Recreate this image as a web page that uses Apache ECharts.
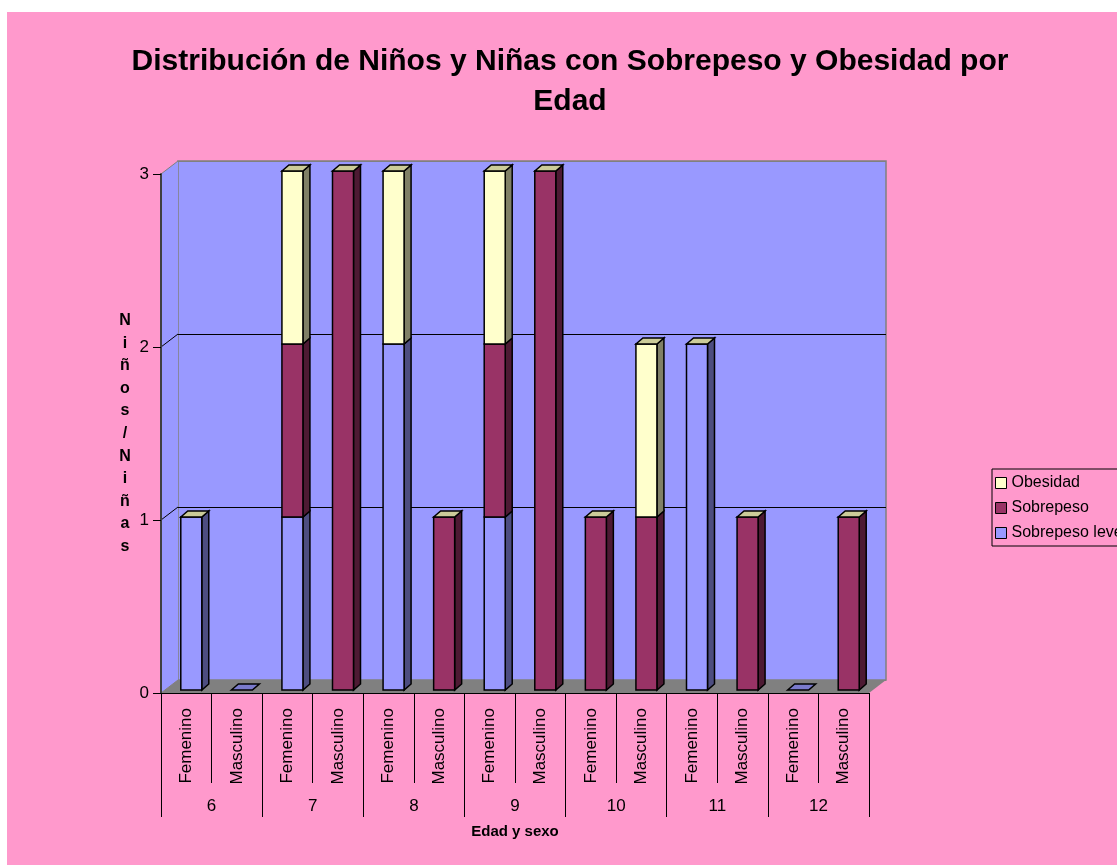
<!DOCTYPE html>
<html>
<head>
  <meta charset="UTF-8">
  <title>Distribución de Niños y Niñas con Sobrepeso y Obesidad por Edad</title>
  <script src="https://cdn.jsdelivr.net/npm/echarts@6/dist/echarts.min.js"></script>
  <style>
    html, body { margin: 0; padding: 0; background: #ffffff; }
    #main { position: absolute; left: 7px; top: 12px; width: 1110px; height: 853px; }
  </style>
</head>
<body>
  <div id="main"></div>

  <script>
    // categorías (edad y sexo)
    const categories = [
      'Femenino', 'Masculino', 'Femenino', 'Masculino', 'Femenino', 'Masculino',
      'Femenino', 'Masculino', 'Femenino', 'Masculino', 'Femenino', 'Masculino',
      'Femenino', 'Masculino'
    ];
    const ages = ['6', '7', '8', '9', '10', '11', '12'];

    // valores por serie
    const sobrepesoLeve = [1, 0, 1, 0, 2, 0, 1, 0, 0, 0, 2, 0, 0, 0];
    const sobrepeso     = [0, 0, 1, 3, 0, 1, 1, 3, 1, 1, 0, 1, 0, 1];
    const obesidad      = [0, 0, 1, 0, 1, 0, 1, 0, 0, 1, 0, 0, 0, 0];

    const yTicks = [0, 1, 2, 3];

    const GRID = { left: 154, top: 162, width: 708, height: 519 };
    const DEPTH = [17, -13];       // desplazamiento de la pared del fondo
    const BAR = { half: 10.5, dx: 7, dy: 6, shiftX: 5, shiftY: -3 };

    const seriesDefs = [
      { name: 'Sobrepeso leve', values: sobrepesoLeve, front: '#9999FF', side: '#4D4D80', top: '#CCCC99' },
      { name: 'Sobrepeso',      values: sobrepeso,     front: '#993366', side: '#4D1A33', top: '#CCCC99' },
      { name: 'Obesidad',       values: obesidad,      front: '#FFFFCC', side: '#808066', top: '#CCCC99' }
    ];

    // apilar
    const totals = categories.map((c, i) => seriesDefs.reduce((s, d) => s + d.values[i], 0));
    const bases = categories.map(() => 0);
    const stacked = seriesDefs.map((def, k) => {
      const data = [];
      def.values.forEach((v, i) => {
        const s = bases[i];
        const e = s + v;
        bases[i] = e;
        const isTop = (v > 0 && e === totals[i]) || (k === 0 && totals[i] === 0);
        if (v > 0 || isTop) data.push([i, s, e, isTop ? 1 : 0]);
      });
      return data;
    });

    function makeRender(def) {
      return function (params, api) {
        const i = api.value(0), s = api.value(1), e = api.value(2), isTop = api.value(3);
        const cx = api.coord([i, 0])[0] + BAR.shiftX;
        const yb = api.coord([i, s])[1] + BAR.shiftY;
        const yt = api.coord([i, e])[1] + BAR.shiftY;
        const xl = cx - BAR.half, xr = cx + BAR.half;
        const stroke = { stroke: '#000', lineWidth: 1.5, lineJoin: 'miter' };
        const children = [];
        if (e > s) {
          children.push({
            type: 'polygon',
            shape: { points: [[xr, yt], [xr + BAR.dx, yt - BAR.dy], [xr + BAR.dx, yb - BAR.dy], [xr, yb]] },
            style: Object.assign({ fill: def.side }, stroke)
          });
          children.push({
            type: 'rect',
            shape: { x: xl, y: yt, width: xr - xl, height: yb - yt },
            style: Object.assign({ fill: def.front }, stroke)
          });
        }
        if (isTop) {
          children.push({
            type: 'polygon',
            shape: { points: [[xl, yt], [xl + BAR.dx, yt - BAR.dy], [xr + BAR.dx, yt - BAR.dy], [xr, yt]] },
            style: Object.assign({ fill: e > s ? def.top : '#7A7ACC' }, stroke)
          });
        }
        return { type: 'group', children };
      };
    }

    const series = seriesDefs.map((def, k) => ({
      name: def.name,
      type: 'custom',
      xAxisIndex: 0,
      yAxisIndex: 0,
      z: 5,
      itemStyle: { color: def.front, borderColor: '#000', borderWidth: 1 },
      encode: { x: 0, y: [1, 2] },
      renderItem: makeRender(def),
      data: stacked[k]
    }));

    const option = {
      backgroundColor: '#FF99CC',
      textStyle: { fontFamily: 'Liberation Sans, Arial, sans-serif', color: '#000' },
      animation: false,
      title: {
        text: 'Distribución de Niños y Niñas con Sobrepeso y Obesidad por\nEdad',
        left: 558,
        top: 25,
        textAlign: 'center',
        textStyle: { fontSize: 30, fontWeight: 'bold', color: '#000', lineHeight: 40 }
      },
      legend: {
        orient: 'vertical',
        left: 985,
        top: 457,
        data: ['Obesidad', 'Sobrepeso', 'Sobrepeso leve'],
        icon: 'rect',
        itemWidth: 11,
        itemHeight: 11,
        itemGap: 7,
        padding: [5, 30, 4, 3],
        borderColor: '#000',
        borderWidth: 1,
        itemStyle: { borderColor: '#000', borderWidth: 1 },
        textStyle: { fontSize: 16, color: '#000', lineHeight: 18 }
      },
      grid: [
        { left: GRID.left, top: GRID.top, width: GRID.width, height: GRID.height },
        {
          left: GRID.left + DEPTH[0], top: GRID.top + DEPTH[1], width: GRID.width, height: GRID.height,
          show: true, backgroundColor: '#9999FF', borderColor: '#808080', borderWidth: 1.5
        }
      ],
      xAxis: [
        {
          type: 'category', gridIndex: 0, data: categories, position: 'bottom', z: 10,
          axisLine: { show: true, lineStyle: { color: '#000', width: 1 } },
          axisTick: { show: true, length: 90, interval: 0, lineStyle: { color: '#000', width: 1 } },
          axisLabel: { interval: 0, rotate: 90, margin: 15, fontSize: 17, color: '#000' }
        },
        {
          type: 'category', gridIndex: 0, data: ages, position: 'bottom', z: 10,
          name: 'Edad y sexo', nameLocation: 'middle', nameGap: 131,
          nameTextStyle: { fontSize: 15, fontWeight: 'bold', color: '#000' },
          axisLine: { show: true, lineStyle: { color: '#000', width: 1 } },
          axisTick: { show: true, length: 124, interval: 0, lineStyle: { color: '#000', width: 1 } },
          axisLabel: { interval: 0, margin: 105, fontSize: 17, color: '#000' }
        },
        { type: 'category', gridIndex: 1, data: categories, show: false }
      ],
      yAxis: [
        {
          type: 'value', gridIndex: 0, min: 0, max: 3, interval: 1, z: 10,
          name: 'Niños/Niñas'.split('').join('\n'),
          nameLocation: 'middle', nameRotate: 0, nameGap: 36,
          nameTextStyle: { fontSize: 16, fontWeight: 'bold', color: '#000', lineHeight: 22.6, align: 'center' },
          axisLine: { show: true, lineStyle: { color: '#404040', width: 2 } },
          axisTick: { show: true, length: 8, lineStyle: { color: '#000' } },
          axisLabel: { fontSize: 17, color: '#000', margin: 12 },
          splitLine: { show: false }
        },
        {
          type: 'value', gridIndex: 1, min: 0, max: 3, interval: 1,
          axisLine: { show: false }, axisTick: { show: false }, axisLabel: { show: false },
          splitLine: { show: true, lineStyle: { color: ['#808080', '#000', '#000', '#808080'], width: 1 } }
        }
      ],
      series
    };

    const chart = echarts.init(document.getElementById('main'));
    chart.setOption(option);

    // pared lateral, piso y líneas de marcas en profundidad
    const L = GRID.left, T = GRID.top, R = GRID.left + GRID.width, B = GRID.top + GRID.height;
    const [dx, dy] = DEPTH;
    const graphic = [
      {
        type: 'polygon', z: 1,
        shape: { points: [[L, T], [L + dx, T + dy], [L + dx, B + dy], [L, B]] },
        style: { fill: '#9999FF', stroke: null }
      },
      {
        type: 'polygon', z: 1,
        shape: { points: [[L, B], [L + dx, B + dy], [R + dx, B + dy], [R, B]] },
        style: { fill: '#808080', stroke: null }
      }
    ];
    yTicks.forEach((v) => {
      const y = chart.convertToPixel({ yAxisIndex: 0 }, v);
      graphic.push({
        type: 'line', z: 2,
        shape: { x1: L, y1: y, x2: L + dx, y2: y + dy },
        style: { stroke: v === 0 || v === 3 ? '#808080' : '#000', lineWidth: 1 }
      });
    });
    chart.setOption({ graphic });
  </script>
</body>
</html>
